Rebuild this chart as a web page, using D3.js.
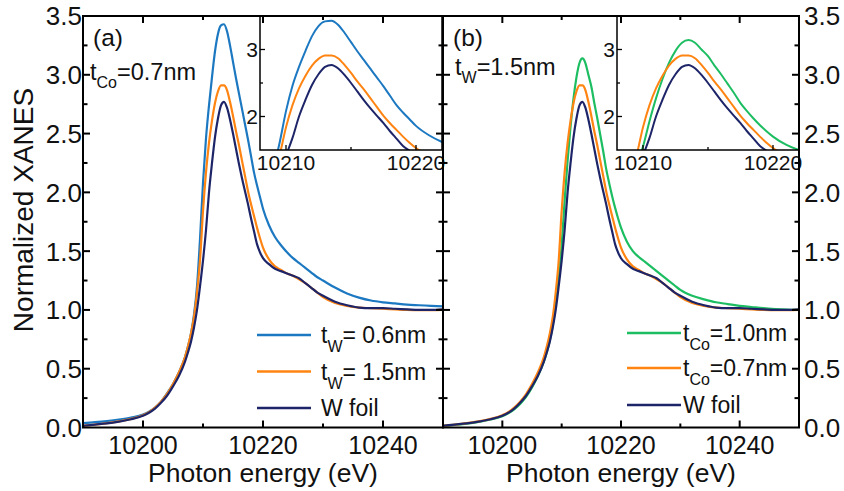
<!DOCTYPE html>
<html>
<head>
<meta charset="utf-8">
<script src="https://cdn.jsdelivr.net/npm/d3@7"></script>
<style>
  html, body { margin: 0; padding: 0; background: #fff; }
  svg { display: block; font-family: "Liberation Sans", Arial, Helvetica, sans-serif; }
</style>
</head>
<body>
<svg id="chart" width="844" height="491"></svg>
<script>
// Photon energy grid (eV)
const energy = [10190, 10192, 10194, 10196, 10198, 10200, 10201, 10202, 10203, 10204,
  10205, 10206, 10207, 10207.5, 10208, 10208.5, 10209, 10209.5, 10210, 10210.5,
  10211, 10211.5, 10212, 10212.5, 10213, 10213.5, 10214, 10214.5, 10215, 10215.5,
  10216, 10216.5, 10217, 10217.5, 10218, 10218.5, 10219, 10219.5, 10220, 10221,
  10222, 10223, 10224, 10225, 10226, 10227, 10228, 10229, 10230, 10232,
  10234, 10236, 10238, 10240, 10242, 10244, 10246, 10248, 10250];

// Normalized XANES, t_W = 0.6 nm (t_Co = 0.7 nm)
const tW06 = [0.037, 0.045, 0.055, 0.068, 0.085, 0.11, 0.135, 0.17, 0.22, 0.29,
  0.37, 0.47, 0.60, 0.69, 0.80, 0.96, 1.20, 1.60, 2.08, 2.46,
  2.74, 2.98, 3.20, 3.35, 3.42, 3.43, 3.37, 3.25, 3.11, 2.97,
  2.84, 2.71, 2.58, 2.45, 2.31, 2.17, 2.06, 1.96, 1.86, 1.72,
  1.62, 1.55, 1.49, 1.44, 1.40, 1.36, 1.32, 1.28, 1.25, 1.19,
  1.14, 1.105, 1.08, 1.065, 1.055, 1.045, 1.04, 1.035, 1.03];

// Normalized XANES, t_W = 1.5 nm with t_Co = 0.7 nm
const tW15 = [0.015, 0.025, 0.037, 0.052, 0.073, 0.105, 0.13, 0.17, 0.22, 0.285,
  0.37, 0.47, 0.60, 0.69, 0.80, 0.94, 1.15, 1.42, 1.84, 2.17,
  2.42, 2.61, 2.76, 2.86, 2.91, 2.91, 2.87, 2.77, 2.65, 2.52,
  2.40, 2.27, 2.14, 2.01, 1.90, 1.80, 1.70, 1.61, 1.53, 1.43,
  1.37, 1.34, 1.31, 1.29, 1.26, 1.23, 1.19, 1.15, 1.11, 1.06,
  1.035, 1.02, 1.015, 1.01, 1.005, 1.0, 0.998, 0.998, 1.0];

// Normalized XANES, W foil reference
const wFoil = [0.015, 0.025, 0.035, 0.05, 0.07, 0.10, 0.125, 0.16, 0.21, 0.27,
  0.35, 0.44, 0.56, 0.64, 0.73, 0.85, 1.0, 1.2, 1.42, 1.68,
  2.0, 2.25, 2.47, 2.63, 2.74, 2.77, 2.72, 2.62, 2.50, 2.37,
  2.24, 2.12, 2.01, 1.90, 1.78, 1.67, 1.56, 1.49, 1.44, 1.39,
  1.35, 1.33, 1.31, 1.29, 1.27, 1.23, 1.19, 1.15, 1.12, 1.07,
  1.04, 1.02, 1.015, 1.015, 1.01, 1.005, 1.0, 1.0, 1.005];

// Normalized XANES, t_Co = 1.0 nm (t_W = 1.5 nm)
const tCo10 = [0.015, 0.022, 0.033, 0.048, 0.068, 0.095, 0.12, 0.155, 0.20, 0.26,
  0.34, 0.44, 0.56, 0.64, 0.74, 0.87, 1.05, 1.27, 1.55, 1.93,
  2.27, 2.56, 2.80, 2.98, 3.10, 3.14, 3.10, 3.00, 2.90, 2.76,
  2.63, 2.49, 2.35, 2.20, 2.08, 1.97, 1.87, 1.78, 1.70, 1.58,
  1.50, 1.45, 1.41, 1.37, 1.33, 1.29, 1.25, 1.21, 1.17, 1.12,
  1.09, 1.065, 1.05, 1.035, 1.025, 1.015, 1.008, 1.003, 1.0];

// Axis ticks
const xMajor = [10200, 10220, 10240];
const xMinor = [10210, 10230];
const yMajor = [0, 0.5, 1.0, 1.5, 2.0, 2.5, 3.0, 3.5];
const yMinor = [0.25, 0.75, 1.25, 1.75, 2.25, 2.75, 3.25];
const insetXMajor = [10210, 10220];
const insetXMinor = [10215];
const insetYMajor = [2, 3];
const insetYMinor = [2.5];

const colors = { blue: "#1c78c0", orange: "#ff8412", navy: "#1d2568", green: "#1dbd62" };

const svg = d3.select("#chart");

const panels = [
  {
    id: "a", x0: 83, x1: 443, labelSide: "left",
    tag: "(a)", note: { main: "t", sub: "Co", rest: "=0.7nm", y: 80 },
    series: [
      { values: tW06, color: colors.blue },
      { values: tW15, color: colors.orange },
      { values: wFoil, color: colors.navy }
    ],
    legend: [
      { color: colors.blue, main: "t", sub: "W", rest: "= 0.6nm", y: 335 },
      { color: colors.orange, main: "t", sub: "W", rest: "= 1.5nm", y: 371.5 },
      { color: colors.navy, main: "W foil", sub: "", rest: "", y: 408 }
    ],
    legendX: 257,
    inset: { x0: 260, x1: 442 }
  },
  {
    id: "b", x0: 443, x1: 799, labelSide: "right",
    tag: "(b)", note: { main: "t", sub: "W", rest: "=1.5nm", y: 75 },
    series: [
      { values: tCo10, color: colors.green },
      { values: tW15, color: colors.orange },
      { values: wFoil, color: colors.navy }
    ],
    legend: [
      { color: colors.green, main: "t", sub: "Co", rest: "=1.0nm", y: 333 },
      { color: colors.orange, main: "t", sub: "Co", rest: "=0.7nm", y: 368 },
      { color: colors.navy, main: "W foil", sub: "", rest: "", y: 405 }
    ],
    legendX: 627,
    inset: { x0: 617, x1: 799 }
  }
];

const plotTop = 16, plotBottom = 427.5;
const insetBottom = 150;
const y = d3.scaleLinear().domain([0, 3.5]).range([plotBottom, plotTop]);

function pts(values) {
  return energy.map((e, i) => [e, values[i]]);
}

function drawLabelText(g, x, yPos, item, size, subSize, subDy) {
  const t = g.append("text").attr("x", x).attr("y", yPos)
    .attr("font-size", size).attr("fill", "#111");
  t.append("tspan").text(item.main);
  if (item.sub) {
    t.append("tspan").attr("font-size", subSize).attr("dy", subDy).text(item.sub);
    t.append("tspan").attr("dy", -subDy).text(item.rest);
  }
  return t;
}

const defs = svg.append("defs");

panels.forEach((p, pi) => {
  const g = svg.append("g").attr("class", "panel-" + p.id);
  const x = d3.scaleLinear().domain([10190, 10250]).range([p.x0, p.x1]);
  const clipId = "clip-" + p.id;
  defs.append("clipPath").attr("id", clipId)
    .append("rect").attr("x", p.x0).attr("y", plotTop)
    .attr("width", p.x1 - p.x0).attr("height", plotBottom - plotTop);

  const line = d3.line().x(d => x(d[0])).y(d => y(d[1])).curve(d3.curveMonotoneX);

  // main spectra
  const curves = g.append("g").attr("clip-path", `url(#${clipId})`);
  p.series.forEach(s => {
    curves.append("path").attr("d", line(pts(s.values)))
      .attr("fill", "none").attr("stroke", s.color).attr("stroke-width", 2.2)
      .attr("stroke-linejoin", "round");
  });

  // inset: zoom on the white line
  const ix = d3.scaleLinear().domain([10208, 10222]).range([p.inset.x0, p.inset.x1]);
  const iy = d3.scaleLinear().domain([1.5, 3.5]).range([insetBottom, plotTop]);
  const iClip = "iclip-" + p.id;
  defs.append("clipPath").attr("id", iClip)
    .append("rect").attr("x", p.inset.x0).attr("y", plotTop)
    .attr("width", p.inset.x1 - p.inset.x0).attr("height", insetBottom - plotTop);
  const ig = g.append("g");
  ig.append("rect").attr("x", p.inset.x0).attr("y", plotTop)
    .attr("width", p.inset.x1 - p.inset.x0).attr("height", insetBottom - plotTop)
    .attr("fill", "#fff");
  const iline = d3.line().x(d => ix(d[0])).y(d => iy(d[1])).curve(d3.curveMonotoneX);
  const icurves = ig.append("g").attr("clip-path", `url(#${iClip})`);
  p.series.forEach(s => {
    icurves.append("path").attr("d", iline(pts(s.values)))
      .attr("fill", "none").attr("stroke", s.color).attr("stroke-width", 2)
      .attr("stroke-linejoin", "round");
  });
  ig.append("rect").attr("x", p.inset.x0).attr("y", plotTop)
    .attr("width", p.inset.x1 - p.inset.x0).attr("height", insetBottom - plotTop)
    .attr("fill", "none").attr("stroke", "#000").attr("stroke-width", 1.5);
  // inset ticks
  ig.selectAll(".ixt").data(insetXMajor.map(v => [v, 5]).concat(insetXMinor.map(v => [v, 3])))
    .join("line").attr("x1", d => ix(d[0])).attr("x2", d => ix(d[0]))
    .attr("y1", insetBottom).attr("y2", d => insetBottom - d[1])
    .attr("stroke", "#000").attr("stroke-width", 1.3);
  ig.selectAll(".iyt").data(insetYMajor.map(v => [v, 5]).concat(insetYMinor.map(v => [v, 3])))
    .join("line").attr("y1", d => iy(d[0])).attr("y2", d => iy(d[0]))
    .attr("x1", p.inset.x0).attr("x2", d => p.inset.x0 + d[1])
    .attr("stroke", "#000").attr("stroke-width", 1.3);
  ig.selectAll(".ixl").data(insetXMajor).join("text")
    .attr("x", d => ix(d)).attr("y", 170).attr("text-anchor", "middle")
    .attr("font-size", 21).attr("fill", "#111").text(d => d);
  ig.selectAll(".iyl").data(insetYMajor).join("text")
    .attr("x", p.inset.x0 - 2).attr("y", d => iy(d)).attr("dy", "0.36em")
    .attr("text-anchor", "end").attr("font-size", 21).attr("fill", "#111").text(d => d);

  // frame
  g.append("rect").attr("x", p.x0).attr("y", plotTop).attr("width", p.x1 - p.x0)
    .attr("height", plotBottom - plotTop)
    .attr("fill", "none").attr("stroke", "#000").attr("stroke-width", 2);

  // x ticks (inward, bottom and top)
  const xt = xMajor.map(v => [v, 7]).concat(xMinor.map(v => [v, 4]));
  g.selectAll(".xb").data(xt).join("line")
    .attr("x1", d => x(d[0])).attr("x2", d => x(d[0]))
    .attr("y1", plotBottom).attr("y2", d => plotBottom - d[1])
    .attr("stroke", "#000").attr("stroke-width", 2);
  g.selectAll(".xt").data(xt).join("line")
    .attr("x1", d => x(d[0])).attr("x2", d => x(d[0]))
    .attr("y1", plotTop).attr("y2", d => plotTop + d[1])
    .attr("stroke", "#000").attr("stroke-width", 2);
  g.selectAll(".xl").data(xMajor).join("text")
    .attr("x", d => x(d)).attr("y", 454).attr("text-anchor", "middle")
    .attr("font-size", 25).attr("fill", "#111").text(d => d);

  // y ticks (inward, both sides)
  const yt = yMajor.slice(1, -1).map(v => [v, 7]).concat(yMinor.map(v => [v, 4.5]));
  g.selectAll(".yl").data(yt).join("line")
    .attr("y1", d => y(d[0])).attr("y2", d => y(d[0]))
    .attr("x1", p.x0).attr("x2", d => p.x0 + d[1])
    .attr("stroke", "#000").attr("stroke-width", 2);
  g.selectAll(".yr").data(yt).join("line")
    .attr("y1", d => y(d[0])).attr("y2", d => y(d[0]))
    .attr("x1", p.x1).attr("x2", d => p.x1 - d[1])
    .attr("stroke", "#000").attr("stroke-width", 2);

  const fmt = d3.format(".1f");
  if (p.labelSide === "left") {
    g.selectAll(".ylab").data(yMajor).join("text")
      .attr("x", p.x0 - 1).attr("y", d => y(d)).attr("dy", "0.36em")
      .attr("text-anchor", "end").attr("font-size", 26).attr("fill", "#111").text(d => fmt(d));
  } else {
    g.selectAll(".ylab").data(yMajor).join("text")
      .attr("x", p.x1 + 5).attr("y", d => y(d)).attr("dy", "0.36em")
      .attr("text-anchor", "start").attr("font-size", 26).attr("fill", "#111").text(d => fmt(d));
  }

  // x title
  g.append("text").attr("x", (p.x0 + p.x1) / 2).attr("y", 482)
    .attr("text-anchor", "middle").attr("font-size", 26.5).attr("fill", "#111")
    .text("Photon energy (eV)");

  // panel tag and sample note
  g.append("text").attr("x", p.x0 + 10).attr("y", 46).attr("font-size", 24.5).attr("fill", "#111").text(p.tag);
  drawLabelText(g, p.x0 + 7 + pi * 5, p.note.y, p.note, 23.5, 16, 8);

  // legend
  p.legend.forEach(item => {
    g.append("line").attr("x1", p.legendX).attr("x2", p.legendX + 54)
      .attr("y1", item.y).attr("y2", item.y)
      .attr("stroke", item.color).attr("stroke-width", 2.5);
    drawLabelText(g, p.legendX + 64 - pi * 8, item.y + 8, item, 23, 16, 9);
  });
});

// y title
svg.append("text").attr("transform", "translate(33,210) rotate(-90)")
  .attr("text-anchor", "middle").attr("font-size", 28).attr("fill", "#111")
  .text("Normalized XANES");
</script>
</body>
</html>
